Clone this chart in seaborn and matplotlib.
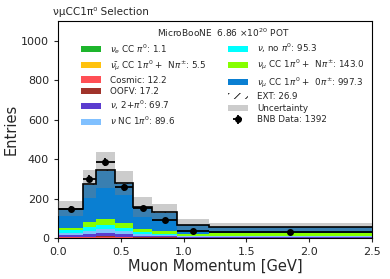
import numpy as np
import pandas as pd
import matplotlib
matplotlib.use("Agg")
import matplotlib.pyplot as plt
from matplotlib.patches import Patch
from matplotlib.colors import to_rgba
import seaborn as sns

# ---------------- data ----------------
edges = [0.0, 0.2, 0.3, 0.45, 0.6, 0.75, 0.95, 1.2, 2.5]

nue_cc = [0.2, 0.2, 0.2, 0.2, 0.1, 0.1, 0.05, 0.05]
numubar_cc = [0.5, 1.0, 1.5, 1.0, 0.7, 0.5, 0.2, 0.1]
cosmic = [2.0, 2.0, 3.0, 2.0, 1.2, 0.8, 0.6, 0.6]
oofv = [3.0, 3.0, 4.0, 3.0, 2.0, 1.2, 0.6, 0.4]
nu_2pi0 = [8.0, 12.0, 16.0, 13.0, 8.0, 6.0, 3.5, 3.2]
nc_1pi0 = [12.0, 18.0, 22.0, 15.0, 10.0, 6.0, 3.0, 3.6]
nu_nopi0 = [15.5, 20.0, 20.0, 14.0, 10.0, 7.0, 4.5, 4.3]
cc_npi = [12.0, 24.0, 30.0, 26.0, 16.0, 12.0, 9.0, 14.0]
cc_0pi = [92.0, 188.0, 243.0, 200.0, 108.0, 94.0, 44.0, 28.3]
ext = [3.5, 4.5, 5.5, 4.0, 2.5, 2.5, 2.0, 2.4]

uncertainty = [39, 72, 90, 60, 50, 40, 27, 20]
bnb_data = [148, 300, 387, 256, 150, 89, 34, 28]

labels = [
    r"$\nu_e$ CC $\pi^0$: 1.1",
    r"$\bar{\nu_\mu}$ CC 1$\pi^0$ +  N$\pi^{\pm}$: 5.5",
    "Cosmic: 12.2",
    "OOFV: 17.2",
    r"$\nu$, 2+$\pi^0$: 69.7",
    r"$\nu$ NC 1$\pi^0$: 89.6",
    r"$\nu$, no $\pi^0$: 95.3",
    r"$\nu_\mu$ CC 1$\pi^0$ +  N$\pi^{\pm}$: 143.0",
    r"$\nu_\mu$ CC 1$\pi^0$ +  0$\pi^{\pm}$: 997.3",
    "EXT: 26.9",
]
colors = ["#1db52c", "#ffc20e", "#ff4f55", "#a0332b", "#5b3ccf",
          "#80c0ff", "#00ffff", "#86ff00", "#0a7fd2", "#fdfdfd"]
series = [nue_cc, numubar_cc, cosmic, oofv, nu_2pi0, nc_1pi0,
          nu_nopi0, cc_npi, cc_0pi, ext]

# ---------------- build frame ----------------
edges_a = np.array(edges)
centers = 0.5 * (edges_a[:-1] + edges_a[1:])
halfw = 0.5 * np.diff(edges_a)
rows = []
for lab, vals in zip(labels, series):
    for c, v in zip(centers, vals):
        rows.append({"x": c, "w": v, "cat": lab})
df = pd.DataFrame(rows)
total = np.sum(np.array(series), axis=0)
unc = np.array(uncertainty)
data = np.array(bnb_data)

sns.set_theme(style="ticks")
plt.rcParams["font.family"] = ["DejaVu Sans"]
plt.rcParams["hatch.linewidth"] = 0.6

fig = plt.figure(figsize=(3.9, 2.79), dpi=100)
ax = fig.add_axes([58 / 390, 41 / 279, 314 / 390, 217 / 279])

palette = dict(zip(labels, colors))
sns.histplot(data=df, x="x", weights="w", hue="cat", bins=edges,
             multiple="stack", element="bars", hue_order=labels[::-1],
             palette=palette, alpha=1, linewidth=0, legend=False, ax=ax,
             shrink=1)

ext_rgba = to_rgba(colors[-1])
for p in ax.patches:
    if np.allclose(p.get_facecolor()[:3], ext_rgba[:3], atol=0.01):
        p.set_facecolor("none")
        p.set_edgecolor("black")
        p.set_hatch("///")
        p.set_linewidth(0)

ax.stairs(total + unc, edges_a, baseline=total - unc, fill=True,
          color="gray", alpha=0.4, linewidth=0, zorder=3)
ax.stairs(total, edges_a, baseline=None, color="black", linewidth=1.2,
          zorder=4)
eb = ax.errorbar(centers, data, xerr=halfw, yerr=np.sqrt(data), fmt="o",
                 color="black", ms=4, lw=1.3, capsize=0, zorder=5)

ax.set_xlim(0, 2.5)
ax.set_ylim(0, 1100)
ax.set_xticks([0.0, 0.5, 1.0, 1.5, 2.0, 2.5])
ax.set_yticks([0, 200, 400, 600, 800, 1000])
ax.tick_params(labelsize=8, length=3, width=0.8)
ax.set_xlabel("Muon Momentum [GeV]", fontsize=10.5, labelpad=1)
ax.set_ylabel("Entries", fontsize=10.5, labelpad=2)
ax.set_title("νμCC1π⁰ Selection", loc="left", fontsize=7.5, pad=4, x=-0.015)
for s in ax.spines.values():
    s.set_linewidth(0.8)
    s.set_color("black")

handles = [Patch(facecolor=c, edgecolor="none") for c in colors[:-1]]
handles.append(Patch(facecolor="none", edgecolor="black", hatch="///",
                     linewidth=0))
handles.append(Patch(facecolor="gray", alpha=0.4, edgecolor="none"))
handles.append(eb)
leg_labels = labels + ["Uncertainty", "BNB Data: 1392"]
ax.legend(handles, leg_labels, ncol=2, frameon=False, fontsize=6.3,
          loc="upper center", bbox_to_anchor=(0.525, 1.005),
          title=r"MicroBooNE  6.86 $\times 10^{20}$ POT", title_fontsize=6.5,
          handlelength=2.3, handleheight=0.7, labelspacing=0.3,
          columnspacing=2.4, handletextpad=1.1, borderpad=0.3)

fig.savefig("out.png", dpi=100)
